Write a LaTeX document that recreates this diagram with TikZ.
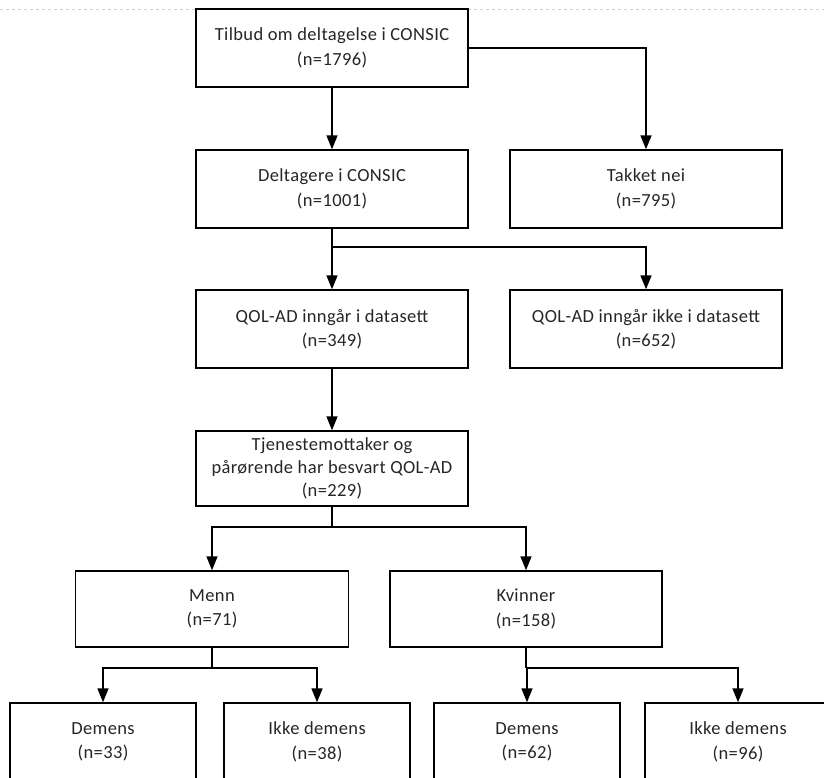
\documentclass[tikz,border=0pt]{standalone}
\usepackage{fontspec}
\setmainfont{Carlito}[LetterSpace=2]
\usetikzlibrary{arrows.meta}
\tikzset{
  font=\fontsize{18.5}{24.5}\selectfont,
  % Set arrowhead
  >={Triangle[width=11pt, length=14pt]},
  % Flow box
  box/.style={draw, line width=1.4pt, fill=white, shape=rectangle,
    minimum width=272pt, minimum height=78pt, inner sep=0pt,
    align=center, text=black!85},
  % Small box in the last row
  sbox/.style={box, minimum width=186pt, minimum height=78pt},
  % Connectors
  link/.style={line width=1.6pt},
}

\begin{document}
\begin{tikzpicture}[x=1pt, y=-1pt]
  \clip (0,0) rectangle (824,778);
  \fill[white] (0,0) rectangle (824,778);
  \draw[gray!35, dashed, line width=0.8pt] (0,9.5) -- (824,9.5);

  \node[box] (tilbud) at (332,48)
    {Tilbud om deltagelse i CONSIC\\(n=1796)};
  \node[box] (deltagere) at (332,189)
    {Deltagere i CONSIC\\(n=1001)};
  \node[box] (takket) at (646,189)
    {Takket nei\\(n=795)};
  \node[box] (qolinn) at (332,329)
    {QOL-AD inngår i datasett\\(n=349)};
  \node[box] (qolikke) at (646,329)
    {QOL-AD inngår ikke i datasett\\(n=652)};
  \node[box, minimum height=75pt, font=\fontsize{18.5}{23}\selectfont] (tjeneste) at (332,468.5)
    {Tjenestemottaker og\\pårørende har besvart QOL-AD\\(n=229)};
  \node[box, minimum width=273pt, minimum height=76pt] (menn) at (212,609)
    {Menn\\(n=71)};
  \node[box, minimum height=76pt] (kvinner) at (526,609)
    {Kvinner\\(n=158)};
  \node[sbox] (demensm) at (103,742) {Demens\\(n=33)};
  \node[sbox] (ikkem) at (317,742) {Ikke demens\\(n=38)};
  \node[sbox] (demensk) at (527,742) {Demens\\(n=62)};
  \node[sbox] (ikkek) at (738,742) {Ikke demens\\(n=96)};

  \coordinate (s1) at (332,247);
  \coordinate (s2) at (332,527);
  \coordinate (s3) at (212,668);
  \coordinate (s4) at (526,668);

  \draw[link, ->] (tilbud) -- (deltagere);
  \draw[link, ->] (tilbud.east) -| (takket);
  \draw[link, ->] (deltagere) -- (qolinn);
  \draw[link, ->] (s1) -| (qolikke);
  \draw[link, ->] (qolinn) -- (tjeneste);
  \draw[link] (tjeneste) -- (s2);
  \draw[link, ->] (s2) -| (menn);
  \draw[link, ->] (s2) -| (kvinner);
  \draw[link] (menn) -- (s3);
  \draw[link, ->] (s3) -| (demensm);
  \draw[link, ->] (s3) -| (ikkem);
  \draw[link] (kvinner) -- (s4);
  \draw[link, ->] (s4) -| (demensk);
  \draw[link, ->] (s4) -| (ikkek);
\end{tikzpicture}
\end{document}
